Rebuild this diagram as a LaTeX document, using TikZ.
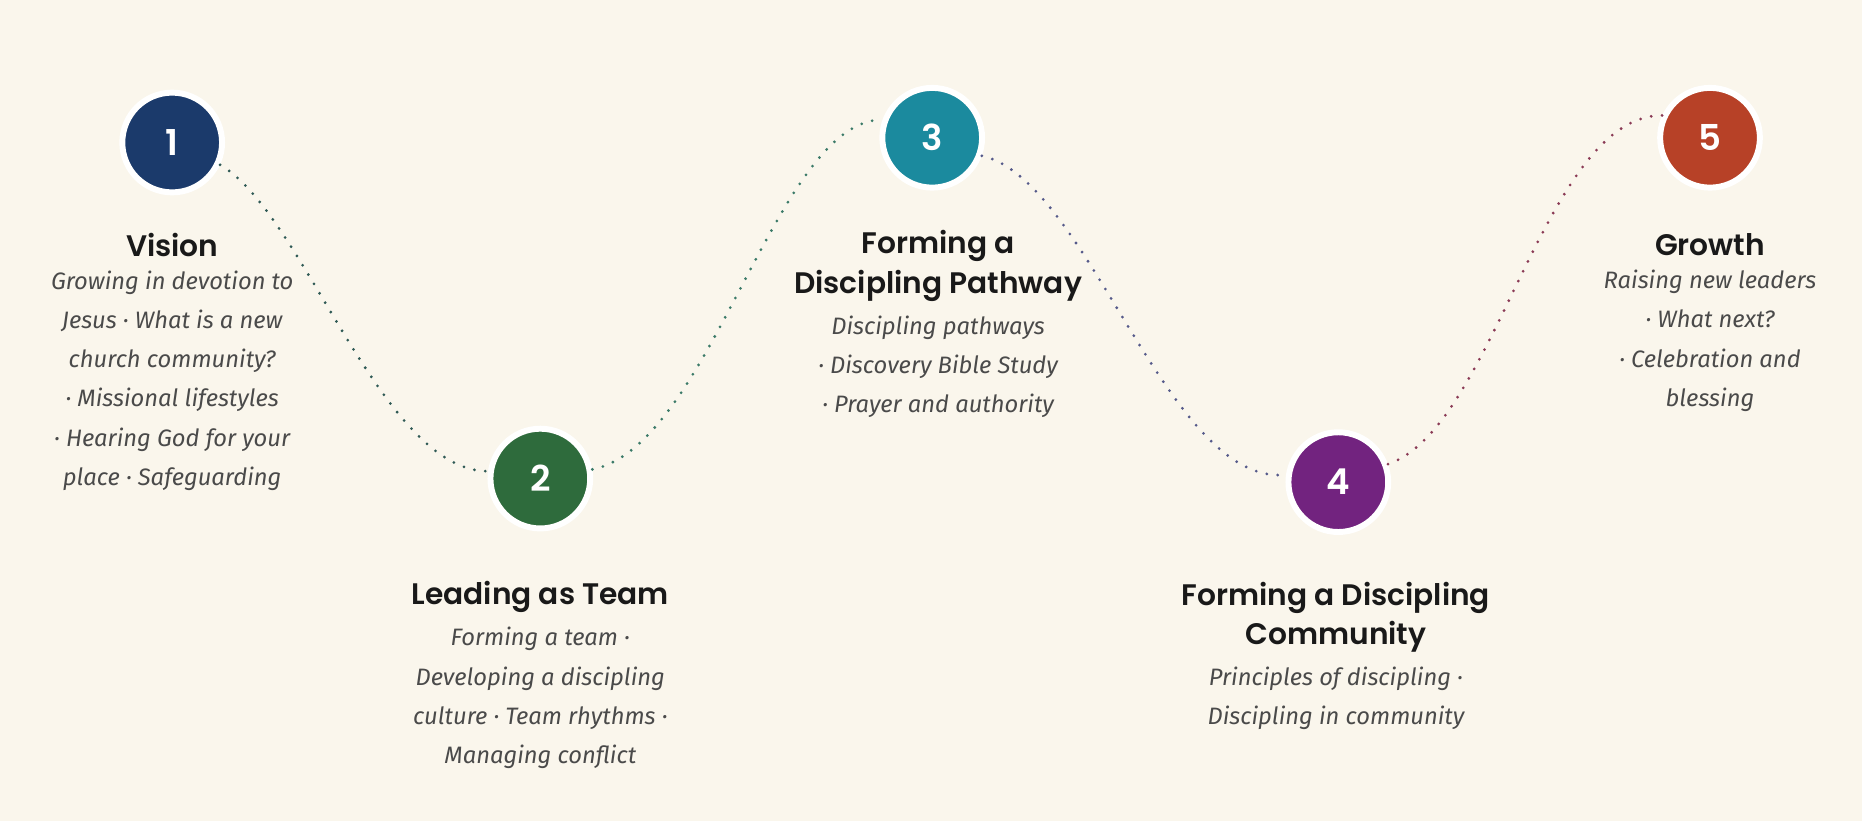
\documentclass[tikz,border=0pt]{standalone}
\usepackage{fontspec}
\setmainfont{Fira Sans}
\newfontfamily\headfont{Poppins}[BoldFont={* SemiBold}]
\usetikzlibrary{positioning,calc}
\definecolor{bgcol}{HTML}{FAF6EC}
\definecolor{stepa}{HTML}{1B3A6B}
\definecolor{stepb}{HTML}{2E6B3C}
\definecolor{stepc}{HTML}{1B8A9E}
\definecolor{stepd}{HTML}{72237F}
\definecolor{stepe}{HTML}{B74127}
\definecolor{pathab}{HTML}{2F5A55}
\definecolor{pathbc}{HTML}{3B7A68}
\definecolor{pathcd}{HTML}{555A8A}
\definecolor{pathde}{HTML}{8A3A55}
\definecolor{bodycol}{HTML}{4A4A4A}
\tikzset{
  stepdot/.style={circle, minimum size=42pt, draw=white, line width=2.5pt,
    text=white, font=\headfont\bfseries\fontsize{15}{15}\selectfont},
  title/.style={align=center, font=\headfont\bfseries\fontsize{12.5}{16.5}\selectfont, text=black!90},
  body/.style={align=center, font=\itshape\fontsize{10}{16.5}\selectfont, text=bodycol},
  trail/.style={line width=1.3pt, line cap=round, dash pattern=on 0pt off 4.6pt}
}
\begin{document}
\begin{tikzpicture}[x=0.5pt,y=-0.5pt]
\fill[bgcol] (0,0) rectangle (1568,691);
\useasboundingbox (0,0) rectangle (1568,691);
% Steps
\node[stepdot, fill=stepa] (n1) at (145,120) {1};
\node[stepdot, fill=stepb] (n2) at (455,403) {2};
\node[stepdot, fill=stepc] (n3) at (785,116) {3};
\node[stepdot, fill=stepd] (n4) at (1127,406) {4};
\node[stepdot, fill=stepe] (n5) at (1440,116) {5};
% Trail between steps
\draw[trail, pathab] (n1.-25) .. controls +(70,40) and +(-90,0) .. (n2.172);
\draw[trail, pathbc] (n2.10) .. controls +(100,-20) and +(-90,0) .. (n3.160);
\draw[trail, pathcd] (n3.-20) .. controls +(90,20) and +(-100,10) .. (n4.172);
\draw[trail, pathde] (n4.20) .. controls +(90,-30) and +(-100,0) .. (n5.155);
% Texts
\node[title] (t1) at (145,206) {Vision};
\node[body, below=-1pt of t1] (b1) {Growing in devotion to\\Jesus · What is a new\\church community?\\· Missional lifestyles\\· Hearing God for your\\place · Safeguarding};
\node[title] (t2) at (455,503) {Leading as Team};
\node[body, below=-1pt of t2] (b2) {Forming a team ·\\Developing a discipling\\culture · Team rhythms ·\\Managing conflict};
\node[title] (t3) at (790,224) {Forming a\\Discipling Pathway};
\node[body, below=-1pt of t3] (b3) {Discipling pathways\\· Discovery Bible Study\\· Prayer and authority};
\node[title] (t4) at (1125,520) {Forming a Discipling\\Community};
\node[body, below=-1pt of t4] (b4) {Principles of discipling ·\\Discipling in community};
\node[title] (t5) at (1440,206) {Growth};
\node[body, below=-1pt of t5] (b5) {Raising new leaders\\· What next?\\· Celebration and\\blessing};
\end{tikzpicture}
\end{document}
